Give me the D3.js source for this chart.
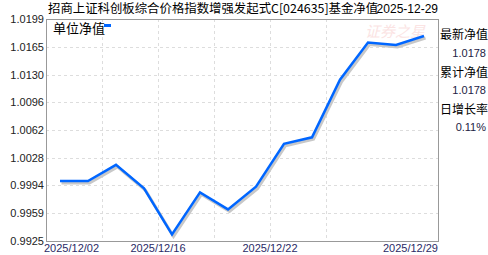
<!DOCTYPE html>
<html>
<head>
<meta charset="utf-8">
<script src="https://cdn.jsdelivr.net/npm/d3@7"></script>
<style>
body { margin: 0; background: #fff; }
text { font-family: "Liberation Sans", Arial, sans-serif; }
.cjk { font-family: "Noto Sans CJK SC", sans-serif; }
</style>
</head>
<body>
<script>
// values
var navValues = [0.9999, 0.9999, 1.0019, 0.9990, 0.9933, 0.9985, 0.9964, 0.9992, 1.0045, 1.0053, 1.0124, 1.0170, 1.0167, 1.0178];
var yTicks = [0.9925, 0.9959, 0.9994, 1.0028, 1.0062, 1.0096, 1.0130, 1.0165, 1.0199];
var xLabels = ["2025/12/02", "2025/12/16", "2025/12/22", "2025/12/29"];
var xLabelPos = [-0.5, 3.5, 7.5, 13.5];
var xGrid = [1.5, 3.5, 5.5, 7.5, 9.5];
var sideLabels = ["最新净值", "累计净值", "日增长率"];
var sideValues = ["1.0178", "1.0178", "0.11%"];

var width = 488;
var height = 255;
var padL = 46, padR = 438, padT = 19, padB = 241;

var x = d3.scaleLinear().domain([-0.5, navValues.length - 0.5]).range([padL, padR]);
var y = d3.scaleLinear().domain([yTicks[0], yTicks[yTicks.length - 1]]).range([padB, padT]);

var svg = d3.select("body").append("svg").attr("width", width).attr("height", height);

// watermark
svg.append("text").attr("class", "cjk").attr("x", 395).attr("y", 37).attr("text-anchor", "middle")
    .attr("font-size", 15).attr("fill", "#f8c8c8").attr("font-style", "italic").attr("opacity", 0.5)
    .text("证券之星");

// grid
svg.selectAll(".hgrid").data(yTicks.slice(1, -1)).enter().append("line")
    .attr("x1", padL).attr("x2", padR)
    .attr("y1", function (d) { return Math.round(y(d)) + 0.5; })
    .attr("y2", function (d) { return Math.round(y(d)) + 0.5; })
    .attr("stroke", "#dddddd").attr("stroke-dasharray", "3,3");
svg.selectAll(".vgrid").data(xGrid).enter().append("line")
    .attr("y1", padT).attr("y2", padB)
    .attr("x1", function (d) { return Math.round(x(d)) + 0.5; })
    .attr("x2", function (d) { return Math.round(x(d)) + 0.5; })
    .attr("stroke", "#dddddd").attr("stroke-dasharray", "3,3");

// frame
svg.append("rect").attr("x", padL + 0.5).attr("y", padT + 0.5).attr("width", padR - padL).attr("height", padB - padT)
    .attr("fill", "none").attr("stroke", "#999999");

// y labels
svg.selectAll(".ylab").data(yTicks).enter().append("text")
    .attr("x", padL - 2).attr("y", function (d) { return y(d) + 4; })
    .attr("text-anchor", "end").attr("font-size", 11).attr("fill", "#222222")
    .text(function (d) { return d.toFixed(4); });

// x labels
svg.selectAll(".xlab").data(xLabels).enter().append("text")
    .attr("x", function (d, i) { return i == 0 ? x(xLabelPos[i]) - 2 : x(xLabelPos[i]); })
    .attr("y", 252)
    .attr("text-anchor", function (d, i) { return i == 0 ? "start" : (i == xLabels.length - 1 ? "end" : "middle"); })
    .attr("font-size", 11).attr("fill", "#2a2a66")
    .text(function (d) { return d; });

// line + shadow
var line = d3.line().x(function (d, i) { return x(i); }).y(function (d) { return y(d); });
svg.append("path").datum(navValues).attr("d", line).attr("transform", "translate(1.5,2)")
    .attr("fill", "none").attr("stroke", "#c8c8c8").attr("stroke-width", 3);
svg.append("path").datum(navValues).attr("d", line)
    .attr("fill", "none").attr("stroke", "#0066ff").attr("stroke-width", 2.5);

// legend
svg.append("text").attr("class", "cjk").attr("x", 53).attr("y", 33).attr("font-size", 13).attr("fill", "#000")
    .text("单位净值");
svg.append("rect").attr("x", 104).attr("y", 24).attr("width", 7).attr("height", 3).attr("fill", "#0066ff");

// title
svg.append("text").attr("class", "cjk").attr("x", 48).attr("y", 13).attr("font-size", 12.4).attr("fill", "#000")
    .text("招商上证科创板综合价格指数增强发起式C[024635]基金净值");
svg.append("text").attr("x", 438).attr("y", 13).attr("text-anchor", "end").attr("font-size", 12).attr("fill", "#000")
    .text("2025-12-29");

// side panel
var sideY = [39, 77, 114];
var valY = [57, 94, 131];
svg.selectAll(".slab").data(sideLabels).enter().append("text").attr("class", "cjk")
    .attr("x", 440).attr("y", function (d, i) { return sideY[i]; })
    .attr("font-size", 12).attr("fill", "#000")
    .text(function (d) { return d; });
svg.selectAll(".sval").data(sideValues).enter().append("text")
    .attr("x", 486).attr("y", function (d, i) { return valY[i]; })
    .attr("text-anchor", "end").attr("font-size", 11).attr("fill", "#222244")
    .text(function (d) { return d; });
</script>
</body>
</html>
